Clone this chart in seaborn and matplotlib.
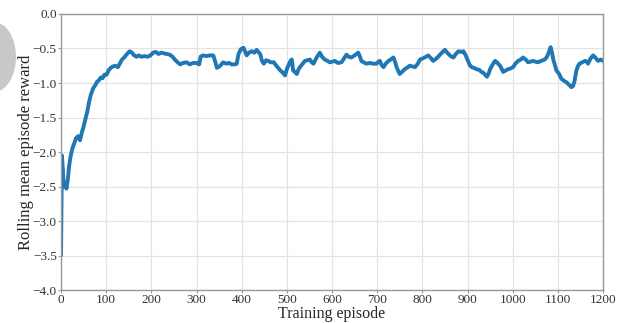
import matplotlib
matplotlib.use("Agg")
import matplotlib.pyplot as plt
from matplotlib.patches import Ellipse
import pandas as pd
import seaborn as sns

# Rolling mean of the episode reward over training
episodes = [
    0, 2, 4, 6, 9, 12, 15, 18, 21, 25, 29, 33, 38, 42, 46, 50, 54, 58, 62, 66,
    71, 76, 80, 84, 88, 92, 96, 101, 105, 110, 115, 120, 126, 130, 135, 140,
    146, 152, 157, 162, 167, 172, 178, 185, 192, 198, 204, 210, 216, 222, 228,
    235, 241, 247, 252, 258, 264, 270, 278, 285, 292, 300, 306, 309, 314, 322,
    330, 337, 341, 345, 351, 359, 366, 372, 378, 385, 389, 393, 398, 404, 408,
    411, 416, 422, 428, 433, 437, 441, 445, 449, 454, 459, 464, 471, 478, 486,
    491, 496, 500, 503, 508, 511, 514, 518, 522, 526, 529, 535, 540, 546, 551,
    555, 559, 566, 570, 573, 578, 584, 590, 595, 601, 606, 613, 621, 627, 632,
    637, 643, 650, 658, 662, 665, 670, 676, 684, 691, 699, 703, 706, 710, 714,
    719, 725, 730, 736, 740, 743, 747, 750, 755, 761, 766, 772, 778, 784, 790,
    795, 802, 808, 813, 819, 824, 830, 835, 839, 845, 850, 855, 861, 865, 869,
    874, 880, 886, 891, 896, 901, 905, 909, 914, 920, 926, 931, 935, 939, 943,
    947, 950, 955, 961, 965, 968, 973, 979, 984, 990, 995, 1001, 1006, 1012,
    1018, 1023, 1029, 1034, 1040, 1045, 1050, 1056, 1063, 1071, 1075, 1078,
    1082, 1084, 1087, 1090, 1094, 1097, 1102, 1108, 1114, 1119, 1124, 1130,
    1134, 1137, 1141, 1145, 1148, 1154, 1160, 1164, 1167, 1172, 1178, 1183,
    1189, 1195, 1200,
]
rolling_reward = [
    -3.50, -2.05, -2.25, -2.50, -2.45, -2.53, -2.40, -2.20, -2.07, -1.95,
    -1.88, -1.80, -1.77, -1.83, -1.72, -1.63, -1.52, -1.42, -1.28, -1.17,
    -1.08, -1.03, -0.98, -0.96, -0.92, -0.93, -0.88, -0.88, -0.82, -0.78,
    -0.76, -0.75, -0.77, -0.72, -0.66, -0.63, -0.58, -0.54, -0.56, -0.60,
    -0.62, -0.60, -0.62, -0.61, -0.62, -0.60, -0.56, -0.55, -0.58, -0.56,
    -0.57, -0.58, -0.59, -0.62, -0.66, -0.70, -0.73, -0.71, -0.70, -0.73,
    -0.71, -0.71, -0.73, -0.62, -0.60, -0.61, -0.60, -0.60, -0.68, -0.78,
    -0.76, -0.70, -0.72, -0.71, -0.73, -0.73, -0.72, -0.58, -0.51, -0.49,
    -0.55, -0.60, -0.56, -0.54, -0.56, -0.52, -0.55, -0.58, -0.68, -0.72,
    -0.67, -0.68, -0.70, -0.70, -0.76, -0.82, -0.85, -0.89, -0.80, -0.75,
    -0.68, -0.66, -0.82, -0.84, -0.87, -0.80, -0.77, -0.72, -0.68, -0.67,
    -0.66, -0.70, -0.72, -0.63, -0.59, -0.56, -0.62, -0.66, -0.68, -0.70,
    -0.69, -0.68, -0.71, -0.70, -0.64, -0.59, -0.62, -0.63, -0.60, -0.56,
    -0.62, -0.68, -0.70, -0.72, -0.71, -0.72, -0.72, -0.69, -0.68, -0.74,
    -0.77, -0.72, -0.68, -0.66, -0.63, -0.70, -0.77, -0.83, -0.87, -0.84,
    -0.80, -0.78, -0.75, -0.76, -0.77, -0.72, -0.66, -0.64, -0.62, -0.60,
    -0.64, -0.68, -0.65, -0.62, -0.59, -0.55, -0.52, -0.56, -0.60, -0.62,
    -0.63, -0.58, -0.54, -0.55, -0.54, -0.60, -0.68, -0.74, -0.77, -0.78,
    -0.80, -0.81, -0.84, -0.85, -0.88, -0.91, -0.86, -0.80, -0.74, -0.68,
    -0.70, -0.72, -0.76, -0.84, -0.82, -0.80, -0.79, -0.77, -0.72, -0.68,
    -0.66, -0.63, -0.66, -0.70, -0.69, -0.68, -0.69, -0.70, -0.68, -0.66,
    -0.63, -0.59, -0.52, -0.48, -0.56, -0.66, -0.75, -0.82, -0.86, -0.94,
    -0.97, -0.99, -1.02, -1.06, -1.04, -0.97, -0.82, -0.75, -0.72, -0.70,
    -0.68, -0.69, -0.72, -0.65, -0.60, -0.63, -0.68, -0.66, -0.68,
]

x_ticks = list(range(0, 1201, 100))
y_ticks = [-4.0, -3.5, -3.0, -2.5, -2.0, -1.5, -1.0, -0.5, 0.0]

sns.set_style("whitegrid", {
    "axes.edgecolor": "#9a9a9a",
    "grid.color": "#e3e3e3",
    "xtick.bottom": True,
    "ytick.left": True,
    "xtick.color": "#333333",
    "ytick.color": "#333333",
})
plt.rcParams["font.family"] = ["Liberation Serif", "DejaVu Serif"]

df = pd.DataFrame({"episode": episodes, "reward": rolling_reward})

fig = plt.figure(figsize=(6.33, 3.23), dpi=100)
ax = fig.add_axes([0.0964, 0.102, 0.8562, 0.8547])

# decorative grey shape at the left border
fig.patches.append(Ellipse((-6 / 633, 1 - 57 / 323), 44 / 633, 70 / 323,
                           transform=fig.transFigure, facecolor="#c8c8c8",
                           edgecolor="none", zorder=-1))

sns.lineplot(data=df, x="episode", y="reward", ax=ax, color="#1f77b4",
             linewidth=2.8)

ax.set_xlim(0, 1200)
ax.set_ylim(-4.0, 0.0)
ax.set_xticks(x_ticks)
ax.set_yticks(y_ticks)
ax.set_yticklabels([f"{v:.1f}".replace("-", "\u2212") for v in y_ticks])
ax.tick_params(axis="both", labelsize=9.5, length=2.5, width=0.8,
               color="#9a9a9a", pad=0.5)
for s in ax.spines.values():
    s.set_linewidth(1.0)
ax.grid(True, linewidth=0.9)
ax.set_xlabel("Training episode", fontsize=11.5, labelpad=-0.5)
ax.set_ylabel("Rolling mean episode reward", fontsize=12, labelpad=-1)

fig.savefig("out.png", dpi=100)
